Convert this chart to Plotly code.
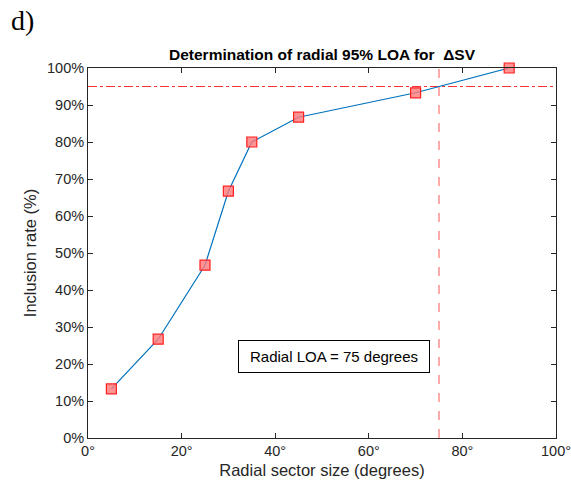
import plotly.graph_objects as go

sector_size = [5, 15, 25, 30, 35, 45, 70, 90]
inclusion_rate = [13.3, 26.7, 46.7, 66.7, 80.0, 86.7, 93.3, 100.0]
loa_level = 95
radial_loa = 75
x_ticks = [0, 20, 40, 60, 80, 100]
y_ticks = [0, 10, 20, 30, 40, 50, 60, 70, 80, 90, 100]

FONT = "Liberation Sans, Arial, sans-serif"

fig = go.Figure()
fig.add_trace(go.Scatter(
    x=sector_size, y=inclusion_rate, mode="lines+markers",
    line=dict(color="#0072BD", width=1.2),
    marker=dict(symbol="square", size=10, color="rgba(255,120,120,0.8)",
                line=dict(color="#ff2020", width=1.2)),
    showlegend=False, cliponaxis=False,
))

fig.add_shape(type="line", xref="paper", yref="y", x0=0, x1=1, y0=loa_level, y1=loa_level,
              line=dict(color="#ff3333", width=1, dash="dashdot"), layer="below")
fig.add_shape(type="line", xref="x", yref="paper", x0=radial_loa, x1=radial_loa, y0=0, y1=1,
              line=dict(color="#ffaaaa", width=2, dash="dash"), layer="below")

fig.add_annotation(x=32, y=22, xref="x", yref="y", xanchor="left", yanchor="middle",
                   text="Radial LOA = 75 degrees", showarrow=False, width=176, align="center",
                   font=dict(family=FONT, size=15, color="black"),
                   bgcolor="white", bordercolor="black", borderwidth=1, borderpad=7)

W, H = 571, 486
L, R, T, B = 88, 15, 68, 48
plot_h = H - T - B
plot_w = W - L - R

fig.add_annotation(x=(9 - L) / plot_w, y=1 + (T - 21) / plot_h, xref="paper", yref="paper",
                   xanchor="left", yanchor="middle", text="d)", showarrow=False,
                   font=dict(family="Liberation Serif, Times New Roman, serif", size=28, color="black"))

axis_common = dict(showgrid=False, zeroline=False, showline=True, linecolor="#262626",
                   linewidth=1, mirror="ticks", ticks="inside", ticklen=5, automargin=False,
                   tickcolor="#262626", tickfont=dict(family=FONT, size=14.5, color="#262626"))

fig.update_xaxes(range=[0, 100], tickvals=x_ticks, ticktext=[f"{v}°" for v in x_ticks],
                 title=dict(text="Radial sector size (degrees)", font=dict(family=FONT, size=16.5, color="#262626"), standoff=6),
                 **axis_common)
fig.update_yaxes(range=[0, 100], tickvals=y_ticks, ticktext=[f"{v}%" for v in y_ticks],
                 title=dict(text="Inclusion rate (%)", font=dict(family=FONT, size=16.5, color="#262626"), standoff=6),
                 **axis_common)

fig.update_layout(
    width=W, height=H, margin=dict(l=L, r=R, t=T, b=B),
    paper_bgcolor="white", plot_bgcolor="white",
    title=dict(text="<b>Determination of radial 95% LOA for&nbsp; ΔSV</b>", x=(88 + 556) / 2 / W, xanchor="center",
               y=1 - 55 / H, yanchor="middle", font=dict(family=FONT, size=15.5, color="black")),
)

fig.write_html("out.html", config={"displayModeBar": False},
               post_script="document.body.style.margin='0';document.body.style.overflow='hidden';")
